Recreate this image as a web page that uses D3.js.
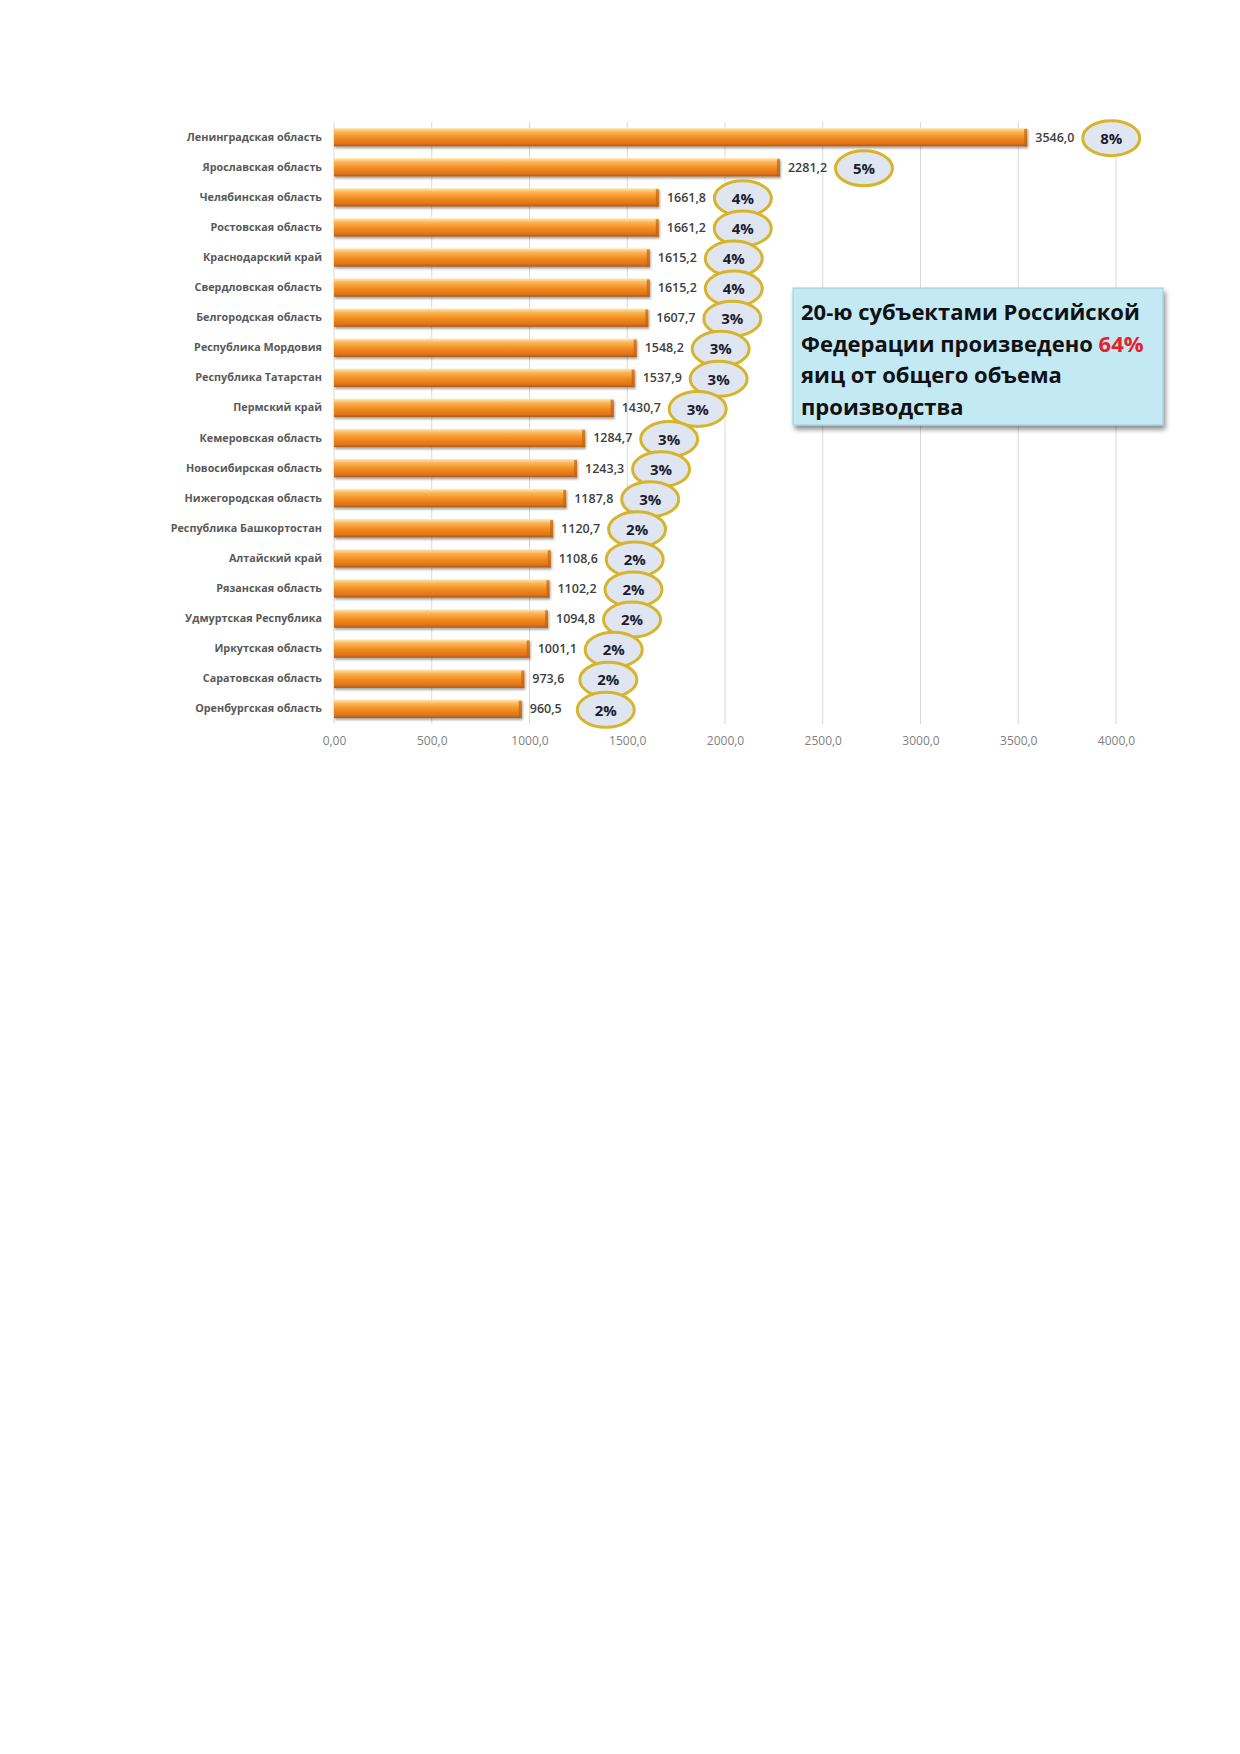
<!DOCTYPE html>
<html>
<head>
<meta charset="utf-8">
<script src="https://cdn.jsdelivr.net/npm/d3@7"></script>
<style>
  body { margin: 0; background: #fff; }
  text { font-family: "Open Sans", "DejaVu Sans", sans-serif; }
</style>
</head>
<body>
<div id="chart"></div>
<script>
var regions = [
  'Ленинградская область', 'Ярославская область', 'Челябинская область',
  'Ростовская область', 'Краснодарский край', 'Свердловская область',
  'Белгородская область', 'Республика Мордовия', 'Республика Татарстан',
  'Пермский край', 'Кемеровская область', 'Новосибирская область',
  'Нижегородская область', 'Республика Башкортостан', 'Алтайский край',
  'Рязанская область', 'Удмуртская Республика', 'Иркутская область',
  'Саратовская область', 'Оренбургская область'
];
var production = [3546.0, 2281.2, 1661.8, 1661.2, 1615.2, 1615.2, 1607.7, 1548.2, 1537.9, 1430.7,
                  1284.7, 1243.3, 1187.8, 1120.7, 1108.6, 1102.2, 1094.8, 1001.1, 973.6, 960.5];
var shares = [8, 5, 4, 4, 4, 4, 3, 3, 3, 3, 3, 3, 3, 2, 2, 2, 2, 2, 2, 2];
var tickValues = [0, 500, 1000, 1500, 2000, 2500, 3000, 3500, 4000];
var tickLabels = ['0,00', '500,0', '1000,0', '1500,0', '2000,0', '2500,0', '3000,0', '3500,0', '4000,0'];
var noteLines = [
  ['20-ю субъектами Российской'],
  ['Федерации произведено ', '64%'],
  ['яиц от общего объема'],
  ['производства']
];

var svgWidth = 1240;
var svgHeight = 1754;

var plot = {left: 334, right: 1116, top: 122, bottom: 724};

var svg = d3.select('#chart')
            .append('svg')
            .attr('width', svgWidth)
            .attr('height', svgHeight);

var defs = svg.append('defs');
var grad = defs.append('linearGradient')
               .attr('id', 'barGrad')
               .attr('x1', 0).attr('y1', 0).attr('x2', 0).attr('y2', 1);
grad.append('stop').attr('offset', '0%').attr('stop-color', '#fde9b8');
grad.append('stop').attr('offset', '22%').attr('stop-color', '#fbb456');
grad.append('stop').attr('offset', '55%').attr('stop-color', '#f28b1e');
grad.append('stop').attr('offset', '85%').attr('stop-color', '#e0731a');
grad.append('stop').attr('offset', '100%').attr('stop-color', '#a85a18');

var shadow = defs.append('filter').attr('id', 'shadow')
                 .attr('x', '-5%').attr('y', '-20%').attr('width', '110%').attr('height', '160%');
shadow.append('feDropShadow').attr('dx', 1).attr('dy', 2).attr('stdDeviation', 1.2)
      .attr('flood-color', '#000').attr('flood-opacity', 0.35);

var boxShadow = defs.append('filter').attr('id', 'boxShadow')
                    .attr('x', '-5%').attr('y', '-5%').attr('width', '115%').attr('height', '125%');
boxShadow.append('feDropShadow').attr('dx', 2).attr('dy', 4).attr('stdDeviation', 2.5)
         .attr('flood-color', '#000').attr('flood-opacity', 0.45);

var x = d3.scaleLinear()
          .domain([0, 4000])
          .range([plot.left, plot.right]);

var y = d3.scaleBand()
          .domain(regions)
          .range([plot.top, plot.bottom])
          .paddingInner(0.39)
          .paddingOuter(0.2);

// gridlines
svg.append('g')
   .selectAll('line')
   .data(tickValues)
   .enter()
   .append('line')
   .attr('x1', d => x(d))
   .attr('x2', d => x(d))
   .attr('y1', plot.top)
   .attr('y2', plot.bottom)
   .attr('stroke', '#d9d9d9')
   .attr('stroke-width', 1);

// x axis labels
var bottomAxis = d3.axisBottom(x)
                   .tickValues(tickValues)
                   .tickSize(0)
                   .tickPadding(10)
                   .tickFormat((d, i) => tickLabels[i]);

var xAxis = svg.append('g')
               .attr('transform', `translate(0, ${plot.bottom + 2})`)
               .call(bottomAxis);
xAxis.select('.domain').remove();
xAxis.selectAll('text')
     .attr('fill', '#7f7f7f')
     .attr('font-size', '12px');

// category labels
var leftAxis = d3.axisLeft(y).tickSize(0).tickPadding(12);
var yAxis = svg.append('g')
               .attr('transform', `translate(${plot.left}, 0)`)
               .call(leftAxis);
yAxis.select('.domain').remove();
yAxis.selectAll('text')
     .attr('fill', '#595959')
     .attr('font-size', '10.8px')
     .attr('font-weight', 'bold');

// bars
var barGroup = svg.append('g');
barGroup.selectAll('rect.bar')
        .data(production)
        .enter()
        .append('rect')
        .attr('class', 'bar')
        .attr('x', x(0))
        .attr('y', (d, i) => y(regions[i]))
        .attr('width', d => x(d) - x(0))
        .attr('height', y.bandwidth())
        .attr('fill', 'url(#barGrad)')
        .attr('filter', 'url(#shadow)');

// darker end caps
barGroup.selectAll('rect.cap')
        .data(production)
        .enter()
        .append('rect')
        .attr('class', 'cap')
        .attr('x', d => x(d) - 3)
        .attr('y', (d, i) => y(regions[i]) + 1)
        .attr('width', 3)
        .attr('height', y.bandwidth() - 1)
        .attr('fill', '#c0620f')
        .attr('opacity', 0.7);

// value labels
svg.append('g')
   .selectAll('text')
   .data(production)
   .enter()
   .append('text')
   .attr('x', d => x(d) + 8)
   .attr('y', (d, i) => y(regions[i]) + y.bandwidth() / 2)
   .attr('dy', '0.35em')
   .attr('font-size', '12.5px')
   .attr('font-weight', 600)
   .attr('fill', '#404040')
   .text(d => d.toFixed(1).replace('.', ','));

// share callouts
var callouts = svg.append('g')
                  .selectAll('g')
                  .data(shares)
                  .enter()
                  .append('g')
                  .attr('transform', (d, i) => `translate(${x(production[i]) + 84}, ${y(regions[i]) + y.bandwidth() / 2 + 1})`);

callouts.append('ellipse')
        .attr('rx', 28.5)
        .attr('ry', 17.5)
        .attr('fill', '#dfe6f1')
        .attr('stroke', '#d6b42c')
        .attr('stroke-width', 3);

callouts.append('text')
        .attr('text-anchor', 'middle')
        .attr('dy', '0.38em')
        .attr('font-size', '15px')
        .attr('font-weight', 'bold')
        .attr('fill', '#1c1c30')
        .text(d => d + '%');

// note box
var note = svg.append('g');
note.append('rect')
    .attr('x', 793)
    .attr('y', 288)
    .attr('width', 370)
    .attr('height', 137)
    .attr('fill', '#c3e9f5')
    .attr('stroke', '#9fc9d8')
    .attr('stroke-width', 1)
    .attr('filter', 'url(#boxShadow)');

var noteText = note.append('text')
                   .attr('font-size', '22px')
                   .attr('font-weight', 'bold')
                   .attr('fill', '#111');

noteLines.forEach(function(parts, i) {
    noteText.append('tspan')
            .attr('x', 801)
            .attr('y', 320 + i * 31.5)
            .text(parts[0]);
    if (parts.length > 1) {
        noteText.append('tspan')
                .attr('fill', '#e8202a')
                .text(parts[1]);
    }
});
</script>
</body>
</html>
